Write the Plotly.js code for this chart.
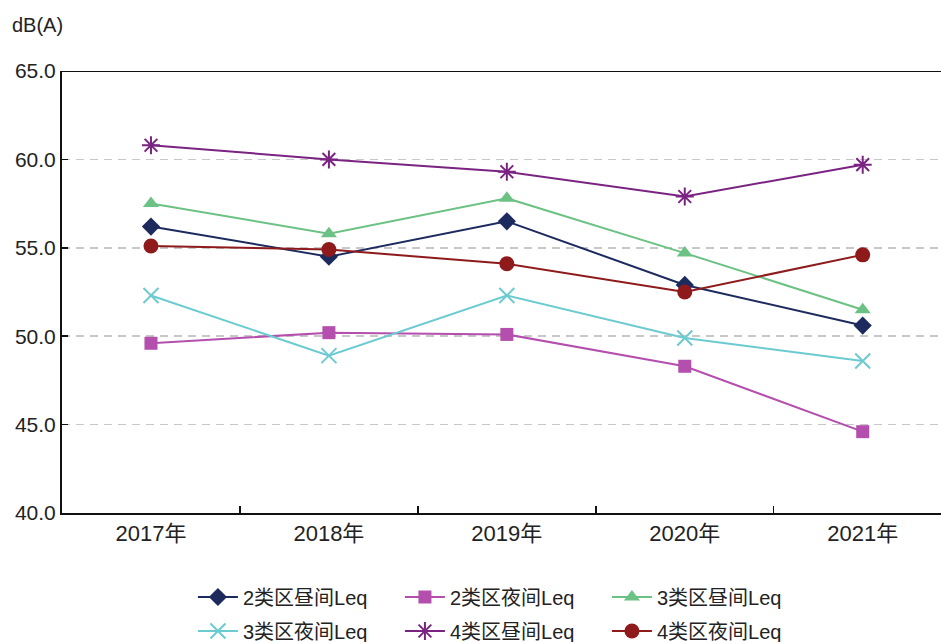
<!DOCTYPE html>
<html>
<head>
<meta charset="utf-8">
<script src="https://cdn.plot.ly/plotly-3.0.1.min.js"></script>
<style>html,body{margin:0;padding:0;background:#fff;overflow:hidden}</style>
</head>
<body>
<div id="chart" style="width:941px;height:642px"></div>
<script>
const years = ["2017年", "2018年", "2019年", "2020年", "2021年"];
const yTicks = [40, 45, 50, 55, 60, 65];
const yTickLabels = ["40.0", "45.0", "50.0", "55.0", "60.0", "65.0"];
const names = ["2类区昼间Leq", "2类区夜间Leq", "3类区昼间Leq", "3类区夜间Leq", "4类区昼间Leq", "4类区夜间Leq"];
const zone2Day = [56.2, 54.5, 56.5, 52.9, 50.6];
const zone2Night = [49.6, 50.2, 50.1, 48.3, 44.6];
const zone3Day = [57.5, 55.8, 57.8, 54.7, 51.5];
const zone3Night = [52.3, 48.9, 52.3, 49.9, 48.6];
const zone4Day = [60.8, 60.0, 59.3, 57.9, 59.7];
const zone4Night = [55.1, 54.9, 54.1, 52.5, 54.6];
const unitLabel = "dB(A)";

const series = [zone2Day, zone2Night, zone3Day, zone3Night, zone4Day, zone4Night];
const colors = ["#1c2a5e", "#b44fae", "#6cc184", "#6ccbd0", "#7a2382", "#8e1a1c"];
const symbols = ["diamond", "square", "triangle-up", "x-thin-open", "asterisk-open", "circle"];
const sizes = [14, 13, 14, 15, 15, 15];
const FONT = "Liberation Sans, Arial, Noto Sans CJK SC, sans-serif";

const traces = series.map((s, i) => ({
  type: "scatter",
  mode: "lines+markers",
  x: years,
  y: s,
  name: names[i],
  legend: i < 3 ? "legend" : "legend2",
  line: {color: colors[i], width: 2},
  marker: {symbol: symbols[i], size: sizes[i], color: colors[i], line: {color: colors[i], width: (i === 3 || i === 4) ? 2 : 0}},
  cliponaxis: false
}));

const legendCommon = {
  orientation: "h",
  xref: "container", yref: "container",
  x: 0.535, xanchor: "center",
  yanchor: "middle",
  font: {family: FONT, size: 20, color: "#222"},
  entrywidth: 152,
  entrywidthmode: "pixels",
  itemwidth: 40,
  bgcolor: "rgba(0,0,0,0)",
  traceorder: "normal"
};

const layout = {
  width: 941, height: 642,
  margin: {l: 62, r: 0, t: 71, b: 129},
  paper_bgcolor: "#fff",
  plot_bgcolor: "#fff",
  font: {family: FONT, size: 20, color: "#222"},
  showlegend: true,
  xaxis: {
    type: "category",
    range: [-0.5, 4.44],
    showline: true, linecolor: "#111", linewidth: 2,
    ticks: "inside", ticklen: 7, tickcolor: "#111", tickwidth: 1.5,
    tickson: "boundaries",
    showgrid: false, zeroline: false,
    tickfont: {family: FONT, size: 22, color: "#222"}
  },
  yaxis: {
    range: [40, 65],
    tickvals: yTicks, ticktext: yTickLabels,
    showline: true, linecolor: "#111", linewidth: 2,
    ticks: "inside", ticklen: 6, tickcolor: "#111", tickwidth: 1.5,
    showgrid: true, gridcolor: "#c8c8c8", gridwidth: 1.5, griddash: "8px,6px",
    zeroline: false,
    tickfont: {family: FONT, size: 21, color: "#222"}
  },
  legend: Object.assign({}, legendCommon, {y: 1 - 597 / 642}),
  legend2: Object.assign({}, legendCommon, {y: 1 - 631 / 642}),
  shapes: [{type: "line", xref: "paper", yref: "y", x0: 0, x1: 1, y0: 65, y1: 65, line: {color: "#111", width: 2}}],
  annotations: [{
    text: unitLabel, xref: "paper", yref: "paper", x: -52 / 879, y: 1 + 46 / 442,
    xanchor: "left", yanchor: "middle", showarrow: false,
    font: {family: FONT, size: 20, color: "#222"}
  }]
};

Plotly.newPlot("chart", traces, layout, {displayModeBar: false, staticPlot: true});
</script>
</body>
</html>
